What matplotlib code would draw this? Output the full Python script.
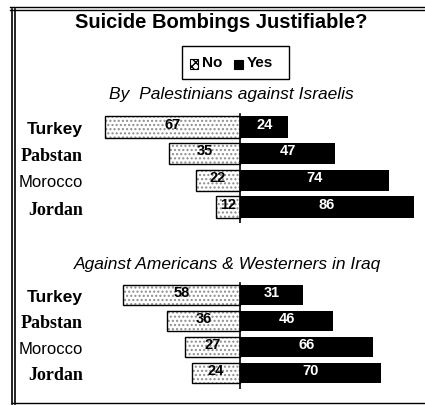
import matplotlib
matplotlib.use("Agg")
import matplotlib.pyplot as plt
from matplotlib.patches import Rectangle
from matplotlib.lines import Line2D

countries = ["Turkey", "Pabstan", "Morocco", "Jordan"]
israel_no = [67, 35, 22, 12]
israel_yes = [24, 47, 74, 86]
iraq_no = [58, 36, 27, 24]
iraq_yes = [31, 46, 66, 70]

label_fonts = ["Liberation Sans", "Liberation Serif", "Liberation Sans", "Liberation Serif"]
label_weights = ["bold", "bold", "normal", "bold"]
label_sizes = [12.5, 13, 12, 13]

W, H = 425, 406
fig = plt.figure(figsize=(W / 100, H / 100), dpi=100)

def px_axes(left, top, right, bottom):
    return fig.add_axes([left / W, 1 - bottom / H, (right - left) / W, (bottom - top) / H])

# frame: double line on top and left, single line at bottom
for y in (8, 11):
    fig.add_artist(Line2D([10 / W, 1], [1 - y / H, 1 - y / H], color="black", lw=1.0))
for x in (12, 15):
    fig.add_artist(Line2D([x / W, x / W], [1 - 10 / H, 1 - 405 / H], color="black", lw=1.2))
fig.add_artist(Line2D([12 / W, 1], [1 - 404 / H, 1 - 404 / H], color="black", lw=1.0))

fig.text(221 / W, 1 - 22 / H, "Suicide Bombings Justifiable?", ha="center", va="center",
         fontsize=14.5, fontweight="bold", family="Liberation Sans")

# legend
fig.add_artist(Rectangle((182 / W, 1 - 80 / H), 107 / W, 33 / H, transform=fig.transFigure,
                         facecolor="white", edgecolor="black", lw=1.0))
fig.add_artist(Rectangle((190 / W, 1 - 70 / H), 8 / W, 10 / H, transform=fig.transFigure,
                         facecolor="white", edgecolor="black", hatch="xxxx", lw=0.8))
fig.text(202 / W, 1 - 63 / H, "No", ha="left", va="center", fontsize=11,
         fontweight="bold", family="Liberation Sans")
fig.add_artist(Rectangle((234 / W, 1 - 70 / H), 9 / W, 9 / H, transform=fig.transFigure,
                         facecolor="black", edgecolor="black", lw=0.8))
fig.text(247 / W, 1 - 63 / H, "Yes", ha="left", va="center", fontsize=11,
         fontweight="bold", family="Liberation Sans")

fig.text(231 / W, 1 - 95 / H, "By  Palestinians against Israelis", ha="center", va="center",
         fontsize=12.5, fontstyle="italic", family="Liberation Sans")
fig.text(227 / W, 1 - 265 / H, "Against Americans & Westerners in Iraq", ha="center", va="center",
         fontsize=12.5, fontstyle="italic", family="Liberation Sans")

scale = 2.02  # pixels per percentage point
center = 240
ax_left, ax_right = 90, 420


def panel(top, spacing, no_vals, yes_vals):
    ax = px_axes(ax_left, top - 0.6 * spacing, ax_right, top + 3.6 * spacing)
    ax.set_xlim(-(center - ax_left) / scale, (ax_right - center) / scale)
    ax.set_ylim(3.6, -0.6)
    rows = list(range(len(countries)))
    neg = [-v for v in no_vals]
    ax.barh(rows, neg, height=0.8, color="white", edgecolor="#8c8c8c", hatch="....", lw=0)
    ax.barh(rows, neg, height=0.8, color="none", edgecolor="black", lw=1.0)
    ax.barh(rows, yes_vals, height=0.8, color="black", edgecolor="black", lw=0)
    ax.axvline(0, ymin=0.0, ymax=0.97, color="black", lw=1.2)
    for r, n, y in zip(rows, no_vals, yes_vals):
        ax.text(-n / 2, r - 0.12, str(n), ha="center", va="center", fontsize=10.5,
                fontweight="bold", color="black", family="Liberation Sans")
        ax.text(y / 2, r - 0.12, str(y), ha="center", va="center", fontsize=10.5,
                fontweight="bold", color="white", family="Liberation Sans")
    ax.set_yticks(rows)
    ax.set_yticklabels(countries)
    for lab, fam, wt, sz in zip(ax.get_yticklabels(), label_fonts, label_weights, label_sizes):
        lab.set_family(fam)
        lab.set_fontweight(wt)
        lab.set_fontsize(sz)
    ax.tick_params(axis="y", length=0, pad=5)
    ax.set_xticks([])
    for s in ax.spines.values():
        s.set_visible(False)
    ax.patch.set_visible(False)


panel(128, 26.7, israel_no, israel_yes)
panel(296, 26.0, iraq_no, iraq_yes)

fig.savefig("out.png", dpi=100)
